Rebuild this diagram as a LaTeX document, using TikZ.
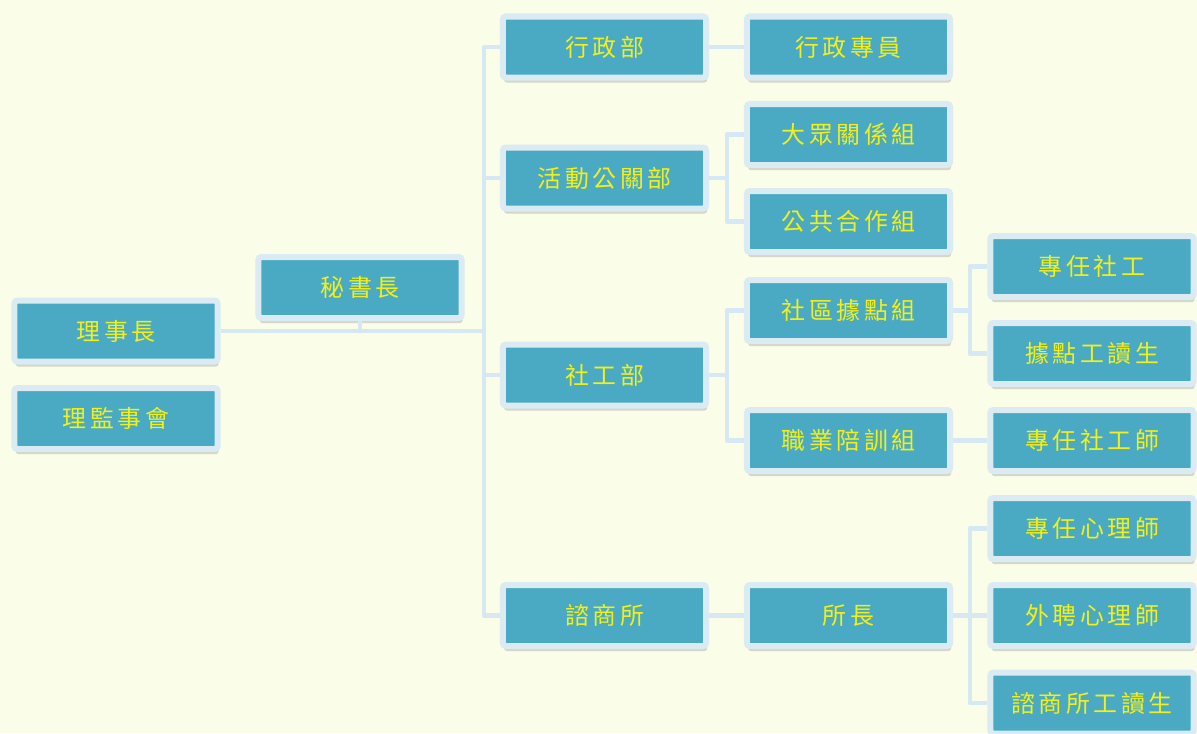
\documentclass[tikz,border=0pt]{standalone}
\usepackage{fontspec}
\usepackage{tikz}
\usetikzlibrary{shadows,calc}
\newfontfamily\cjk[LetterSpace=15]{Noto Sans CJK TC}
\definecolor{bgcream}{RGB}{250,253,232}
\definecolor{boxblue}{RGB}{74,170,196}
\definecolor{boxedge}{RGB}{218,235,243}
\definecolor{linkblue}{RGB}{214,232,241}
\definecolor{textyellow}{RGB}{242,240,24}
\tikzstyle{post}=[draw=boxedge, fill=boxblue, line width=0.15cm,
  minimum width=5.075cm, minimum height=1.525cm, rounded corners=2pt,
  inner sep=0pt, text=textyellow,
  drop shadow={shadow xshift=0.8pt, shadow yshift=-3.6pt, opacity=0.3}]
\tikzstyle{link}=[draw, color=linkblue, line width=0.11cm, line join=round]
\newcommand{\textsize}{\fontsize{17}{20}\selectfont}
\newcommand{\orgbox}[2]{node (#1) [post] {{\cjk\textsize #2}}}

\begin{document}
\begin{tikzpicture}[x=0.025cm,y=-0.025cm]

  % Background
  \path[fill=bgcream, use as bounding box] (0,0) rectangle (1197,733);

  % Board and secretary general
  \path (116,331) \orgbox{chair}{理事長};
  \path (116,418.5) \orgbox{board}{理監事會};
  \path (360,287.5) \orgbox{secgen}{秘書長};
  \coordinate (trunk) at (484,330);

  % Departments
  \path (604.5,47) \orgbox{admin}{行政部};
  \path (604.5,178) \orgbox{pr}{活動公關部};
  \path (604.5,375) \orgbox{social}{社工部};
  \path (604.5,615.5) \orgbox{counsel}{諮商所};

  % Groups
  \path (848.5,47) \orgbox{adminstaff}{行政專員};
  \path (848.5,134.5) \orgbox{media}{大眾關係組};
  \path (848.5,221.5) \orgbox{coop}{公共合作組};
  \path (848.5,310.5) \orgbox{community}{社區據點組};
  \path (848.5,440.5) \orgbox{training}{職業陪訓組};
  \path (848.5,615.5) \orgbox{director}{所長};

  % Staff
  \path (1092,266.5) \orgbox{sw}{專任社工};
  \path (1092,353.5) \orgbox{swpart}{據點工讀生};
  \path (1092,440.5) \orgbox{swtrain}{專任社工師};
  \path (1092,528.5) \orgbox{psy}{專任心理師};
  \path (1092,615.5) \orgbox{psyext}{外聘心理師};
  \path (1092,703) \orgbox{cstudent}{諮商所工讀生};

  % Draw links between boxes
  \path [link] (secgen.south) -- (secgen.south |- trunk);
  \foreach \dept in {admin,pr,social,counsel}
    \path [link] (chair.east) -| (trunk) |- (\dept.west);
  \path [link] (admin.east) -- (adminstaff.west);
  \foreach \grp in {media,coop}
    \path [link] (pr.east) -- ++(18,0) |- (\grp.west);
  \foreach \grp in {community,training}
    \path [link] (social.east) -- ++(18,0) |- (\grp.west);
  \foreach \staff in {sw,swpart}
    \path [link] (community.east) -- ++(17,0) |- (\staff.west);
  \path [link] (training.east) -- (swtrain.west);
  \path [link] (counsel.east) -- (director.west);
  \foreach \staff in {psy,psyext,cstudent}
    \path [link] (director.east) -- ++(17,0) |- (\staff.west);

\end{tikzpicture}
\end{document}
